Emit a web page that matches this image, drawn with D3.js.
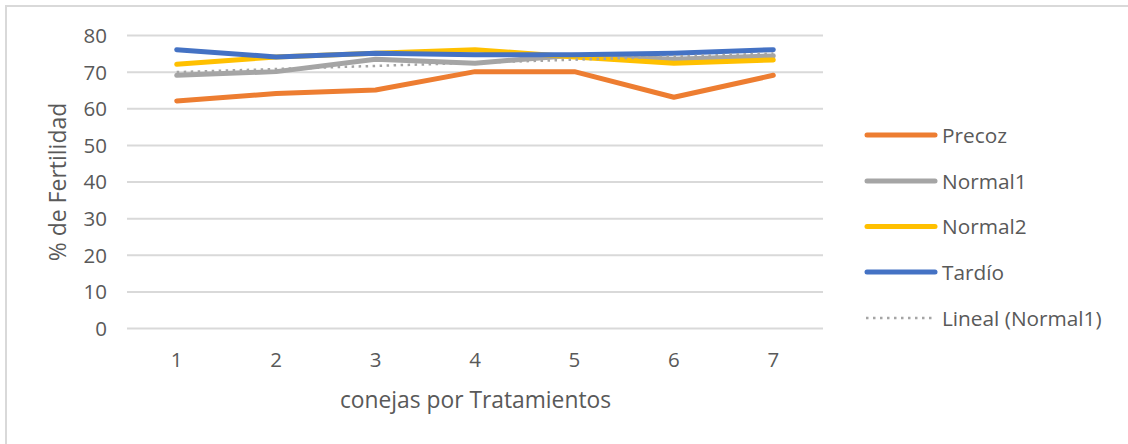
<!DOCTYPE html>
<html>
<head>
<meta charset="utf-8">
<script src="https://cdn.jsdelivr.net/npm/d3@7"></script>
<style>
  html, body { margin: 0; padding: 0; background: #fff; }
  svg { display: block; }
  text { font-family: "Open Sans", "Noto Sans", sans-serif; fill: #595959; }
</style>
</head>
<body>
<svg id="chart" width="1128" height="444"></svg>
<script>
const categories = [1, 2, 3, 4, 5, 6, 7];
const precoz  = [62, 64, 65, 70, 70, 63, 69];
const normal1 = [69, 70, 73.4, 72.3, 74.5, 73.4, 74.3];
const normal2 = [72, 74, 75, 76, 74, 72.3, 73.2];
const tardio  = [76, 74, 75, 74.6, 74.6, 75, 76];
const yTicks = [0, 10, 20, 30, 40, 50, 60, 70, 80];
const seriesNames = ["Precoz", "Normal1", "Normal2", "Tardío"];
const seriesColors = ["#ED7D31", "#A5A5A5", "#FFC000", "#4472C4"];
const trendName = "Lineal (Normal1)";
const xTitle = "conejas por Tratamientos";
const yTitle = "% de Fertilidad";

const series = [precoz, normal1, normal2, tardio];

const svg = d3.select("#chart");

// chart border
svg.append("rect")
  .attr("x", 6).attr("y", 6)
  .attr("width", 1140).attr("height", 460)
  .attr("fill", "none").attr("stroke", "#d9d9d9").attr("stroke-width", 2);

const plot = { left: 127, right: 823, top: 35, bottom: 328 };

const x = d3.scaleBand().domain(categories).range([plot.left, plot.right]).padding(0);
const xc = d => x(d) + x.bandwidth() / 2;
const y = d3.scaleLinear().domain([0, 80]).range([plot.bottom, plot.top]);

// gridlines
const yAxis = d3.axisLeft(y).tickValues(yTicks).tickSize(-(plot.right - plot.left)).tickPadding(20);
const gy = svg.append("g").attr("transform", `translate(${plot.left},0)`).call(yAxis);
gy.select(".domain").remove();
gy.selectAll(".tick line").attr("stroke", "#d9d9d9").attr("stroke-width", 2);
gy.selectAll(".tick text")
  .attr("font-size", 20.5).attr("fill", "#595959").attr("dy", "0.36em")
  .style("font-family", '"Open Sans", sans-serif');

// x axis labels
const xAxis = d3.axisBottom(x).tickSize(0).tickPadding(0);
const gx = svg.append("g").attr("transform", `translate(0,${plot.bottom})`).call(xAxis);
gx.select(".domain").remove();
gx.selectAll(".tick text")
  .attr("font-size", 20.5).attr("fill", "#595959").attr("y", 39).attr("dy", 0)
  .style("font-family", '"Open Sans", sans-serif');

// titles
svg.append("text")
  .attr("x", (plot.left + plot.right) / 2 + 0.5).attr("y", 408)
  .attr("text-anchor", "middle").attr("font-size", 22.8)
  .text(xTitle);
svg.append("text")
  .attr("transform", `translate(66,182) rotate(-90)`)
  .attr("text-anchor", "middle").attr("font-size", 23)
  .text(yTitle);

// lines
const line = d3.line().x((d, i) => xc(categories[i])).y(d => y(d));
series.forEach((s, k) => {
  svg.append("path")
    .datum(s)
    .attr("d", line)
    .attr("fill", "none")
    .attr("stroke", seriesColors[k])
    .attr("stroke-width", 5)
    .attr("stroke-linecap", "round")
    .attr("stroke-linejoin", "round");
});

// linear trendline of Normal1 (least squares)
const n = categories.length;
const mx = d3.mean(categories), my = d3.mean(normal1);
const slope = d3.sum(categories.map((c, i) => (c - mx) * (normal1[i] - my))) /
              d3.sum(categories.map(c => (c - mx) * (c - mx)));
const icpt = my - slope * mx;
const trend = [categories[0], categories[n - 1]].map(c => ({ c, v: icpt + slope * c }));
svg.append("path")
  .datum(trend)
  .attr("d", d3.line().x(d => xc(d.c)).y(d => y(d.v)))
  .attr("fill", "none")
  .attr("stroke", "#A5A5A5")
  .attr("stroke-width", 2.5)
  .attr("stroke-dasharray", "2.5,4.5");

// legend
const legendRows = [135, 181, 226.5, 272, 318];
const lg = svg.append("g");
seriesNames.forEach((name, k) => {
  lg.append("line")
    .attr("x1", 867).attr("x2", 935)
    .attr("y1", legendRows[k]).attr("y2", legendRows[k])
    .attr("stroke", seriesColors[k]).attr("stroke-width", 5)
    .attr("stroke-linecap", "round");
  lg.append("text")
    .attr("x", 942).attr("y", legendRows[k] + 7.5)
    .attr("font-size", 20.8)
    .text(name);
});
lg.append("line")
  .attr("x1", 866).attr("x2", 936)
  .attr("y1", legendRows[4]).attr("y2", legendRows[4])
  .attr("stroke", "#A5A5A5").attr("stroke-width", 2.5)
  .attr("stroke-dasharray", "2.5,4.5");
lg.append("text")
  .attr("x", 942).attr("y", legendRows[4] + 7.5)
  .attr("font-size", 20.8)
  .text(trendName);
</script>
</body>
</html>
